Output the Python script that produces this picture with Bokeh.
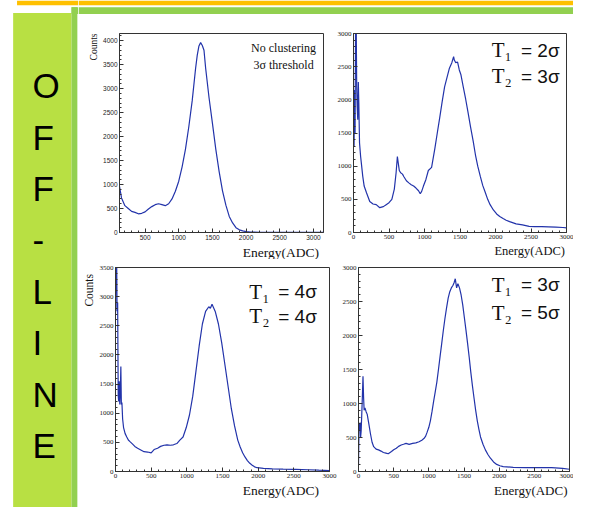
import numpy as np
from bokeh.plotting import figure
from bokeh.layouts import column, row
from bokeh.models import Range1d, Label, SingleIntervalTicker, Title
from bokeh.embed import file_html
from bokeh.resources import INLINE
from bokeh.core.properties import value

# ---------------- data ----------------
# Panel 1: no clustering, 3 sigma threshold
e1 = [120, 150, 200, 250, 300, 350, 400, 450, 500, 550, 600, 650, 700, 750, 800, 850, 900, 950,
      1000, 1050, 1100, 1150, 1200, 1250, 1275, 1300, 1325, 1350, 1375, 1400, 1450, 1500, 1550,
      1600, 1650, 1700, 1750, 1800, 1850, 1900, 1950, 2000, 2050, 2100, 2200, 2300, 2400, 2500,
      2600, 2700, 2800, 2900, 3000, 3100, 3150]
c1 = [960, 720, 560, 500, 440, 420, 390, 400, 430, 490, 540, 580, 600, 580, 560, 600, 700, 860,
      1070, 1370, 1740, 2210, 2750, 3420, 3700, 3890, 3960, 3900, 3800, 3420, 2810, 2280, 1740,
      1270, 870, 570, 335, 200, 100, 55, 35, 20, 12, 8, 5, 4, 3, 3, 2, 2, 2, 2, 2, 2, 2]

# Panel 2: T1 = 2 sigma, T2 = 3 sigma
e2 = [0, 8, 15, 22, 30, 37, 45, 52, 60, 68, 75, 85, 100, 115, 130, 150, 183, 229, 275, 320, 370,
      420, 460, 500, 540, 575, 600, 618, 630, 645, 664, 690, 710, 745, 779, 813, 847, 880, 916,
      940, 960, 985, 1020, 1054, 1100, 1145, 1180, 1214, 1250, 1283, 1320, 1351, 1385, 1410,
      1420, 1440, 1466, 1490, 1512, 1545, 1580, 1615, 1649, 1685, 1718, 1750, 1787, 1820, 1855,
      1890, 1924, 1970, 2016, 2060, 2107, 2150, 2199, 2290, 2380, 2474, 2550, 2650, 2748, 2850,
      2950, 3000]
c2 = [2100, 1300, 2150, 1500, 3300, 3300, 2200, 1900, 1700, 2270, 1950, 1350, 1150, 1000, 850,
      700, 600, 467, 430, 420, 374, 390, 420, 450, 500, 654, 900, 1145, 1050, 935, 900, 880, 841,
      780, 748, 720, 700, 670, 630, 584, 620, 700, 800, 935, 981, 1262, 1500, 1729, 1980, 2196,
      2350, 2477, 2560, 2650, 2600, 2560, 2570, 2450, 2383, 2200, 2009, 1800, 1589, 1380, 1168,
      1000, 841, 710, 607, 500, 420, 340, 280, 240, 210, 185, 164, 131, 115, 93, 90, 88, 84, 80,
      75, 70]

# Panel 3: T1 = 4 sigma, T2 = 4 sigma
e3 = [0, 8, 15, 22, 30, 38, 45, 52, 60, 68, 75, 82, 90, 100, 113, 135, 158, 180, 203, 240, 271,
      310, 361, 400, 451, 500, 541, 590, 632, 680, 722, 770, 812, 860, 902, 947, 992, 1037, 1083,
      1128, 1173, 1218, 1263, 1308, 1330, 1353, 1375, 1398, 1443, 1489, 1534, 1579, 1624, 1669,
      1714, 1748, 1782, 1815, 1849, 1883, 1917, 1950, 1985, 2075, 2200, 2350, 2526, 2700, 2850,
      3000]
c3 = [2700, 3800, 3800, 2750, 2900, 1300, 1200, 1550, 1150, 1400, 1800, 1150, 1185, 900, 754,
      650, 592, 540, 512, 470, 431, 400, 366, 340, 334, 320, 377, 400, 431, 450, 458, 450, 458,
      480, 539, 592, 754, 969, 1292, 1723, 2154, 2531, 2746, 2827, 2800, 2870, 2810, 2746, 2531,
      2208, 1831, 1454, 1077, 781, 539, 420, 323, 250, 188, 140, 108, 80, 65, 54, 45, 40, 38, 30,
      22, 16]

# Panel 4: T1 = 3 sigma, T2 = 5 sigma
e4 = [0, 8, 15, 23, 30, 38, 45, 55, 64, 72, 80, 92, 108, 124, 147, 170, 193, 216, 250, 285, 320,
      354, 390, 423, 469, 500, 538, 570, 607, 640, 676, 720, 769, 815, 861, 900, 930, 955, 976,
      1000, 1022, 1045, 1068, 1091, 1114, 1137, 1160, 1183, 1206, 1229, 1252, 1275, 1298, 1320,
      1344, 1360, 1376, 1395, 1413, 1436, 1459, 1482, 1505, 1528, 1551, 1574, 1597, 1620, 1643,
      1666, 1689, 1712, 1735, 1770, 1804, 1840, 1873, 1920, 1965, 2010, 2057, 2200, 2379, 2550,
      2747, 2900, 3000]
c4 = [100, 700, 600, 720, 500, 600, 800, 1100, 1400, 1100, 900, 935, 880, 840, 700, 555, 430,
      365, 330, 318, 300, 280, 270, 261, 294, 320, 342, 370, 389, 400, 413, 400, 413, 420, 437,
      460, 484, 520, 579, 650, 745, 880, 1030, 1170, 1315, 1500, 1694, 1880, 2074, 2250, 2406,
      2550, 2644, 2700, 2739, 2780, 2834, 2700, 2762, 2700, 2596, 2450, 2264, 2080, 1884, 1680,
      1457, 1260, 1077, 900, 745, 620, 508, 400, 318, 250, 199, 140, 104, 85, 71, 62, 57, 57, 57,
      45, 33]

side_letters = ["O", "F", "F", "-", "L", "I", "N", "E"]
x_title = "Energy(ADC)"
y_title = "Counts"

# ---------------- styling / geometry ----------------
W, H = 573, 507
SX, SY = W / 589.0, H / 523.0
BLUE = "#2233AA"
YELLOW = "#FFC000"
LIME = "#B8E043"
GREEN = "#92D050"
SERIF = "Liberation Serif"
SANS = "Liberation Sans"


def px(v):
    return v * SX


def py(v):
    return v * SY


def deco_fig(w, h, x0, y0):
    p = figure(width=w, height=h, x_range=Range1d(x0, x0 + w), y_range=Range1d(y0 + h, y0),
               output_backend="svg", toolbar_location=None, x_axis_type=None, y_axis_type=None,
               min_border=0)
    p.min_border_left = p.min_border_right = p.min_border_top = p.min_border_bottom = 0
    p.outline_line_color = None
    p.xgrid.visible = False
    p.ygrid.visible = False
    p.background_fill_color = "white"
    p.border_fill_color = "white"
    return p


# sidebar
side = deco_fig(78, H, 0, 0)
side.quad(left=[px(17)], right=[78], top=[0], bottom=[py(5)], color=YELLOW, line_color=None)
side.quad(left=[px(13)], right=[px(73)], top=[py(13)], bottom=[H], color=LIME, line_color=None)
side.quad(left=[px(73)], right=[px(79)], top=[py(7)], bottom=[H], color=GREEN, line_color=None)
side.quad(left=[px(73)], right=[78], top=[py(7)], bottom=[py(14)], color=GREEN, line_color=None)
side.text(x=[px(33)] * len(side_letters), y=[py(88 + 53 * i) for i in range(len(side_letters))],
          text=side_letters, text_font=value(SANS), text_font_size="35px",
          text_align="left", text_baseline="middle", text_color="black")

# top strip and bottom strip
top = deco_fig(495, 14, 78, 0)
top.quad(left=[78], right=[573], top=[0], bottom=[py(5)], color=YELLOW, line_color=None)
top.quad(left=[78], right=[573], top=[py(7)], bottom=[14], color=GREEN, line_color=None)

bot = deco_fig(495, 5, 78, 502)
bot.quad(left=[78], right=[573], top=[502], bottom=[507], color=GREEN, line_color=None)


def panel(ox, oy, w, h, bl, br, bt, bb, xr, yr, E, C, tfont, tsize):
    p = figure(width=w, height=h, x_range=Range1d(*xr), y_range=Range1d(*yr),
               output_backend="svg", toolbar_location=None,
               min_border_left=bl, min_border_right=br, min_border_top=bt, min_border_bottom=bb)
    p.xgrid.visible = False
    p.ygrid.visible = False
    p.outline_line_color = "#333333"
    p.outline_line_width = 1
    p.background_fill_color = "white"
    p.border_fill_color = "white"
    for ax in (p.xaxis[0], p.yaxis[0]):
        ax.ticker = SingleIntervalTicker(interval=500, num_minor_ticks=5)
        ax.major_tick_in = 4
        ax.major_tick_out = 0
        ax.minor_tick_in = 2
        ax.minor_tick_out = 0
        ax.axis_line_color = "#333333"
        ax.major_tick_line_color = "#333333"
        ax.minor_tick_line_color = "#333333"
        ax.major_label_text_font = tfont
        ax.major_label_text_font_size = tsize
        ax.major_label_text_color = "#222222"
        ax.major_label_standoff = 2
    p.line(E, C, line_color=BLUE, line_width=1.2)

    fx0, fx1 = bl, w - br
    fy0, fy1 = bt, h - bb

    def lab(xref, yref, text, size, font=SERIF, align="left"):
        lx = px(xref) - ox
        ly = py(yref) - oy
        dx = xr[0] + (lx - fx0) / (fx1 - fx0) * (xr[1] - xr[0])
        dy = yr[0] + (fy1 - ly) / (fy1 - fy0) * (yr[1] - yr[0])
        p.add_layout(Label(x=dx, y=dy, text=text, text_font=font, text_font_size=size,
                           text_align=align, text_baseline="middle", text_color="#111111"))

    def tlabel(t1, t2, xref, yref):
        lab(xref, yref, t1, "21px", SERIF)
        lab(xref + 30, yref, t2, "19px", SANS)

    def xtitle(offset, size, standoff):
        p.add_layout(Title(text=x_title, align="right", offset=offset, standoff=standoff,
                           text_font=SERIF, text_font_size=size, text_font_style="normal",
                           text_color="#111111"), "below")

    def ytitle(offset, size, standoff):
        p.add_layout(Title(text=y_title, align="right", offset=offset, standoff=standoff,
                           text_font=SERIF, text_font_size=size, text_font_style="normal",
                           text_color="#111111"), "left")

    return p, lab, tlabel, xtitle, ytitle


R1, R2 = 245, 243   # row heights (page px)

p1, l1, t1, xt1, yt1 = panel(78, 14, 253, R1, 41, 8, 19, 26, (120, 3150), (0, 4150), e1, c1,
                             SANS, "6.5px")
yt1(0, "9.5px", 4)
xt1(4.5, "13.5px", 0)
l1(291, 49, "No clustering", "12px", align="center")
l1(291, 67, "3σ threshold", "12px", align="center")

p2, l2, t2, xt2, yt2 = panel(331, 14, 242, R1, 22, 7, 14, 23, (0, 3000), (0, 3000), e2, c2,
                             SERIF, "7px")
t2("T₁", "= 2σ", 505, 47)
t2("T₂", "= 3σ", 505, 75)
xt2(1.5, "12.5px", 0)

p3, l3, t3, xt3, yt3 = panel(78, 14 + R1, 259, R2, 35, 8, 4, 29, (0, 3000), (0, 3500), e3, c3,
                             SERIF, "7px")
yt3(6.5, "11.5px", 4)
t3("T₁", "= 4σ", 255, 297)
t3("T₂", "= 4σ", 255, 323)
xt3(10.5, "13.5px", 0)

p4, l4, t4, xt4, yt4 = panel(337, 14 + R1, 236, R2, 21, 4, 8, 31, (0, 3000), (0, 3000), e4, c4,
                             SERIF, "7px")
t4("T₁", "= 3σ", 505, 293)
t4("T₂", "= 5σ", 505, 322)
xt4(2, "13px", 0)

right = column(top, row(p1, p2, spacing=0), row(p3, p4, spacing=0), bot, spacing=0)
root = row(side, right, spacing=0)

open("out.html", "w").write(file_html(root, INLINE))
